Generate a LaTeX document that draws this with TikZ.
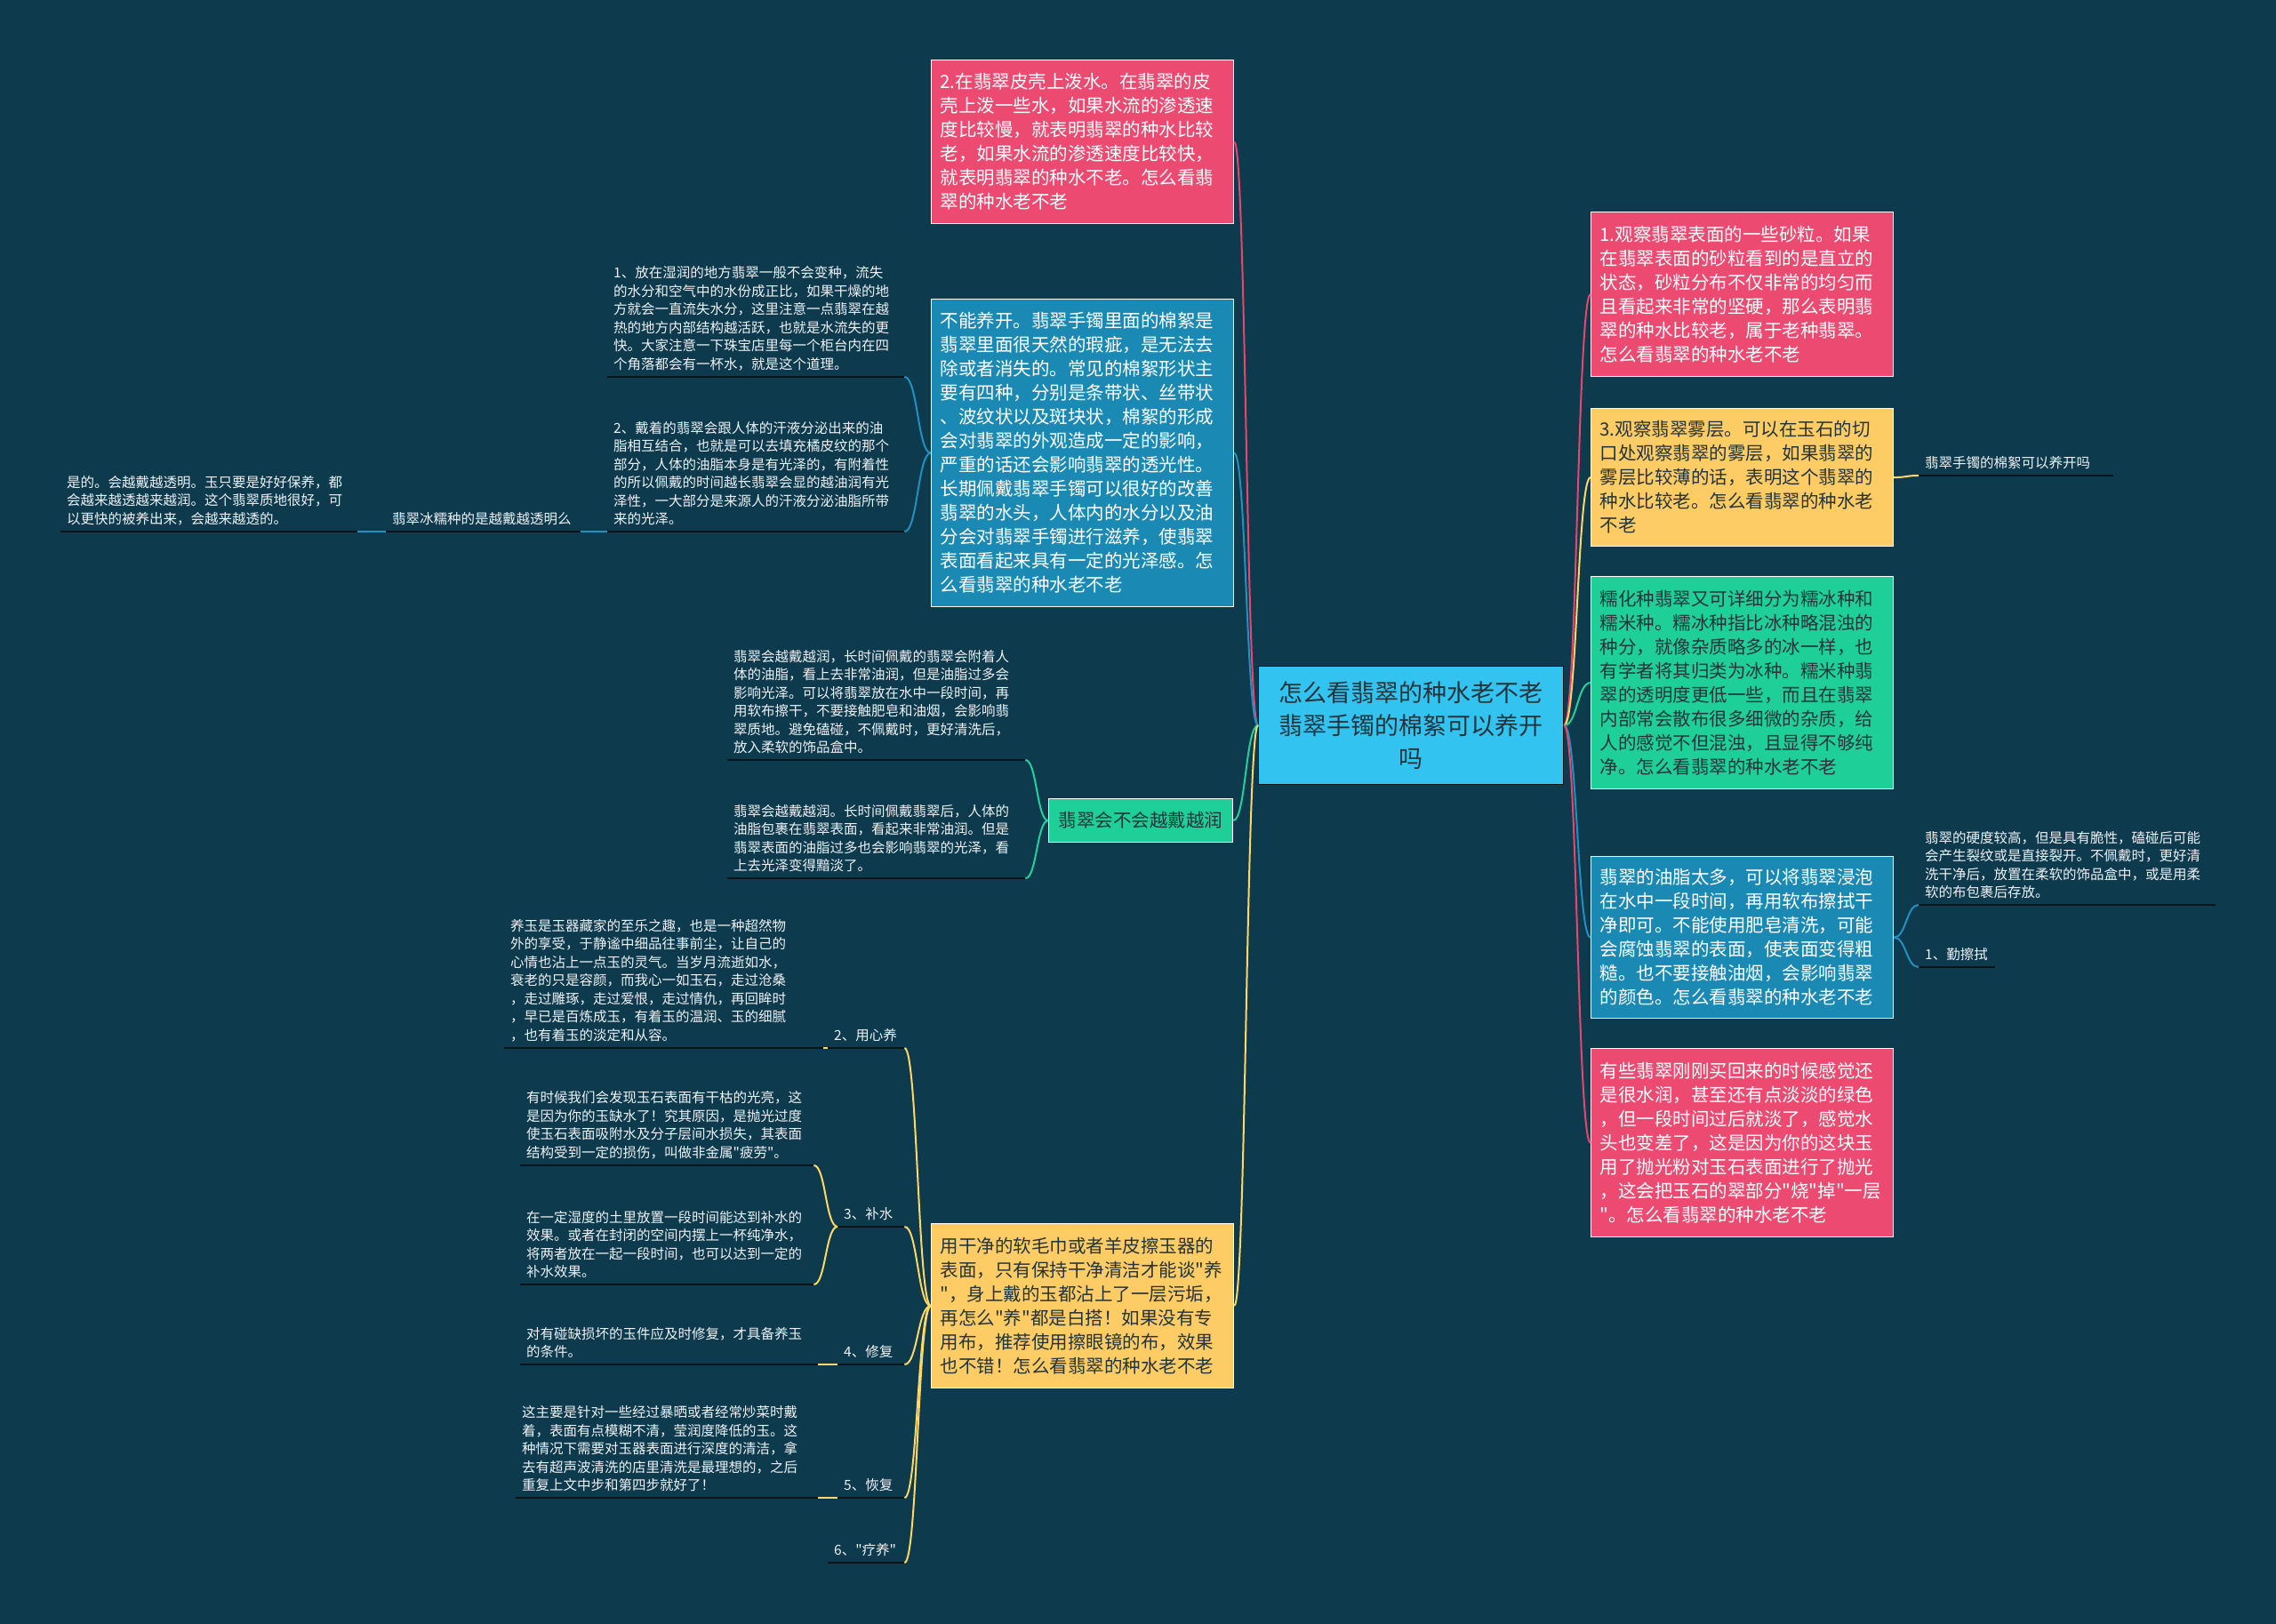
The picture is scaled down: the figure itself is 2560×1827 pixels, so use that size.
\documentclass[tikz,border=0pt]{standalone}
\usepackage{fontspec}
\newfontfamily\cjk{Noto Sans CJK SC}
\usetikzlibrary{calc}
\definecolor{bg}{HTML}{0E3A4E}
\definecolor{cred}{HTML}{EC4A70}
\definecolor{cblue}{HTML}{1A8AB4}
\definecolor{cgreen}{HTML}{1FCF98}
\definecolor{cyel}{HTML}{FECC65}
\definecolor{ccenter}{HTML}{33C3F0}
\definecolor{darktxt}{HTML}{23343A}
\definecolor{leaftxt}{HTML}{EEF2F4}
\definecolor{ulcol}{HTML}{0A1418}
\definecolor{lred}{HTML}{E8466C}
\definecolor{lblue}{HTML}{2391C0}
\definecolor{lgreen}{HTML}{22D19B}
\definecolor{lyel}{HTML}{FFD766}
\newcommand\curvelink[3]{\draw[link,#1] let \p1=(#2), \p2=(#3) in (\p1) .. controls ({(\x1+\x2)/2},\y1) and ({(\x1+\x2)/2},\y2) .. (\p2);}
\begin{document}
\begin{tikzpicture}[x=1pt,y=-1pt,
  box/.style={anchor=north west, text width=320pt, inner xsep=10pt, inner ysep=8pt, align=left,
    font=\cjk\fontsize{20.5}{27}\selectfont, draw=white, line width=1.2pt},
  redbox/.style={box, fill=cred, text=white},
  bluebox/.style={box, fill=cblue, text=white},
  greenbox/.style={box, fill=cgreen, text=darktxt},
  yelbox/.style={box, fill=cyel, text=darktxt},
  leaf/.style={anchor=south west, inner xsep=7pt, inner ysep=7pt, align=left, text=leaftxt,
    font=\cjk\fontsize{15.5}{20.5}\selectfont},
  uline/.style={draw=ulcol, line width=2pt},
  link/.style={line width=2pt}]
\useasboundingbox (0,0) rectangle (2560,1827);
\fill[bg] (0,0) rectangle (2560,1827);

% central node
\node[anchor=north west, fill=ccenter, draw=ulcol, line width=1.2pt, text=darktxt,
  text width=325pt, inner xsep=9pt, minimum height=133pt, align=center,
  font=\cjk\fontsize{27}{37}\selectfont] (center) at (1415,749)
  {怎么看翡翠的种水老不老\\翡翠手镯的棉絮可以养开\\吗};

% left boxes
\node[redbox, minimum height=184pt] (b1) at (1047,67)
{2.在翡翠皮壳上泼水。在翡翠的皮\\壳上泼一些水，如果水流的渗透速\\度比较慢，就表明翡翠的种水比较\\老，如果水流的渗透速度比较快，\\就表明翡翠的种水不老。怎么看翡\\翠的种水老不老};
\node[bluebox, minimum height=346pt] (b2) at (1047,336)
{不能养开。翡翠手镯里面的棉絮是\\翡翠里面很天然的瑕疵，是无法去\\除或者消失的。常见的棉絮形状主\\要有四种，分别是条带状、丝带状\\、波纹状以及斑块状，棉絮的形成\\会对翡翠的外观造成一定的影响，\\严重的话还会影响翡翠的透光性。\\长期佩戴翡翠手镯可以很好的改善\\翡翠的水头，人体内的水分以及油\\分会对翡翠手镯进行滋养，使翡翠\\表面看起来具有一定的光泽感。怎\\么看翡翠的种水老不老};
\node[greenbox, text width=189pt, inner xsep=9pt, minimum height=49pt, align=center] (b3) at (1179,898)
{翡翠会不会越戴越润};
\node[yelbox, minimum height=185pt] (b4) at (1047,1376)
{用干净的软毛巾或者羊皮擦玉器的\\表面，只有保持干净清洁才能谈"养\\"，身上戴的玉都沾上了一层污垢，\\再怎么"养"都是白搭！如果没有专\\用布，推荐使用擦眼镜的布，效果\\也不错！怎么看翡翠的种水老不老};

% right boxes
\node[redbox, minimum height=185pt] (r1) at (1789,238)
{1.观察翡翠表面的一些砂粒。如果\\在翡翠表面的砂粒看到的是直立的\\状态，砂粒分布不仅非常的均匀而\\且看起来非常的坚硬，那么表明翡\\翠的种水比较老，属于老种翡翠。\\怎么看翡翠的种水老不老};
\node[yelbox, minimum height=155pt] (r2) at (1789,459)
{3.观察翡翠雾层。可以在玉石的切\\口处观察翡翠的雾层，如果翡翠的\\雾层比较薄的话，表明这个翡翠的\\种水比较老。怎么看翡翠的种水老\\不老};
\node[greenbox, minimum height=239pt] (r3) at (1789,648)
{糯化种翡翠又可详细分为糯冰种和\\糯米种。糯冰种指比冰种略混浊的\\种分，就像杂质略多的冰一样，也\\有学者将其归类为冰种。糯米种翡\\翠的透明度更低一些，而且在翡翠\\内部常会散布很多细微的杂质，给\\人的感觉不但混浊，且显得不够纯\\净。怎么看翡翠的种水老不老};
\node[bluebox, minimum height=182pt] (r4) at (1789,963)
{翡翠的油脂太多，可以将翡翠浸泡\\在水中一段时间，再用软布擦拭干\\净即可。不能使用肥皂清洗，可能\\会腐蚀翡翠的表面，使表面变得粗\\糙。也不要接触油烟，会影响翡翠\\的颜色。怎么看翡翠的种水老不老};
\node[redbox, minimum height=212pt] (r5) at (1789,1179)
{有些翡翠刚刚买回来的时候感觉还\\是很水润，甚至还有点淡淡的绿色\\，但一段时间过后就淡了，感觉水\\头也变差了，这是因为你的这块玉\\用了抛光粉对玉石表面进行了抛光\\，这会把玉石的翠部分"烧"掉"一层\\"。怎么看翡翠的种水老不老};

% left leaves (blue branch)
\node[leaf, text width=320pt] (l1) at (683,424)
{1、放在湿润的地方翡翠一般不会变种，流失\\的水分和空气中的水份成正比，如果干燥的地\\方就会一直流失水分，这里注意一点翡翠在越\\热的地方内部结构越活跃，也就是水流失的更\\快。大家注意一下珠宝店里每一个柜台内在四\\个角落都会有一杯水，就是这个道理。};
\node[leaf, text width=320pt] (l2) at (683,598)
{2、戴着的翡翠会跟人体的汗液分泌出来的油\\脂相互结合，也就是可以去填充橘皮纹的那个\\部分，人体的油脂本身是有光泽的，有附着性\\的所以佩戴的时间越长翡翠会显的越油润有光\\泽性，一大部分是来源人的汗液分泌油脂所带\\来的光泽。};
\node[leaf, text width=205pt] (l3) at (434,598) {翡翠冰糯种的是越戴越透明么};
\node[leaf, text width=320pt] (l4) at (68,598)
{是的。会越戴越透明。玉只要是好好保养，都\\会越来越透越来越润。这个翡翠质地很好，可\\以更快的被养出来，会越来越透的。};

% green branch leaves
\node[leaf, text width=321pt] (g1) at (818,855)
{翡翠会越戴越润，长时间佩戴的翡翠会附着人\\体的油脂，看上去非常油润，但是油脂过多会\\影响光泽。可以将翡翠放在水中一段时间，再\\用软布擦干，不要接触肥皂和油烟，会影响翡\\翠质地。避免磕碰，不佩戴时，更好清洗后，\\放入柔软的饰品盒中。};
\node[leaf, text width=321pt] (g2) at (818,988)
{翡翠会越戴越润。长时间佩戴翡翠后，人体的\\油脂包裹在翡翠表面，看起来非常油润。但是\\翡翠表面的油脂过多也会影响翡翠的光泽，看\\上去光泽变得黯淡了。};

% yellow branch leaves
\node[leaf, text width=72pt] (y1) at (931,1179) {2、用心养};
\node[leaf, text width=345pt] (y1c) at (567,1179)
{养玉是玉器藏家的至乐之趣，也是一种超然物\\外的享受，于静谧中细品往事前尘，让自己的\\心情也沾上一点玉的灵气。当岁月流逝如水，\\衰老的只是容颜，而我心一如玉石，走过沧桑\\，走过雕琢，走过爱恨，走过情仇，再回眸时\\，早已是百炼成玉，有着玉的温润、玉的细腻\\，也有着玉的淡定和从容。};
\node[leaf, text width=61pt] (y2) at (942,1380) {3、补水};
\node[leaf, text width=316pt] (y2a) at (585,1311)
{有时候我们会发现玉石表面有干枯的光亮，这\\是因为你的玉缺水了！究其原因，是抛光过度\\使玉石表面吸附水及分子层间水损失，其表面\\结构受到一定的损伤，叫做非金属"疲劳"。};
\node[leaf, text width=316pt] (y2b) at (585,1445)
{在一定湿度的土里放置一段时间能达到补水的\\效果。或者在封闭的空间内摆上一杯纯净水，\\将两者放在一起一段时间，也可以达到一定的\\补水效果。};
\node[leaf, text width=61pt] (y3) at (942,1535) {4、修复};
\node[leaf, text width=321pt] (y3c) at (585,1535)
{对有碰缺损坏的玉件应及时修复，才具备养玉\\的条件。};
\node[leaf, text width=61pt] (y4) at (942,1685) {5、恢复};
\node[leaf, text width=326pt] (y4c) at (580,1685)
{这主要是针对一些经过暴晒或者经常炒菜时戴\\着，表面有点模糊不清，莹润度降低的玉。这\\种情况下需要对玉器表面进行深度的清洁，拿\\去有超声波清洗的店里清洗是最理想的，之后\\重复上文中步和第四步就好了！};
\node[leaf, text width=72pt] (y5) at (931,1758) {6、"疗养"};

% right leaves
\node[leaf, text width=205pt] (q1) at (2158,535) {翡翠手镯的棉絮可以养开吗};
\node[leaf, text width=320pt] (q2) at (2158,1018)
{翡翠的硬度较高，但是具有脆性，磕碰后可能\\会产生裂纹或是直接裂开。不佩戴时，更好清\\洗干净后，放置在柔软的饰品盒中，或是用柔\\软的布包裹后存放。};
\node[leaf, text width=72pt] (q3) at (2158,1088) {1、勤擦拭};

% underlines
\foreach \n in {l1,l2,l3,l4,g1,g2,y1,y1c,y2,y2a,y2b,y3,y3c,y4,y4c,y5,q1,q2,q3}
  \draw[uline] (\n.south west) -- (\n.south east);

% connectors from center
\curvelink{lred}{center.west}{b1.east}
\curvelink{lblue}{center.west}{b2.east}
\curvelink{lgreen}{center.west}{b3.east}
\curvelink{lyel}{center.west}{b4.east}
\curvelink{lred}{center.east}{r1.west}
\curvelink{lyel}{center.east}{r2.west}
\curvelink{lgreen}{center.east}{r3.west}
\curvelink{lblue}{center.east}{r4.west}
\curvelink{lred}{center.east}{r5.west}

% blue branch
\curvelink{lblue}{b2.west}{l1.south east}
\curvelink{lblue}{b2.west}{l2.south east}
\curvelink{lblue}{l2.south west}{l3.south east}
\curvelink{lblue}{l3.south west}{l4.south east}

% green branch
\curvelink{lgreen}{b3.west}{g1.south east}
\curvelink{lgreen}{b3.west}{g2.south east}

% yellow branch
\curvelink{lyel}{b4.west}{y1.south east}
\curvelink{lyel}{b4.west}{y2.south east}
\curvelink{lyel}{b4.west}{y3.south east}
\curvelink{lyel}{b4.west}{y4.south east}
\curvelink{lyel}{b4.west}{y5.south east}
\curvelink{lyel}{y1.south west}{y1c.south east}
\curvelink{lyel}{y2.south west}{y2a.south east}
\curvelink{lyel}{y2.south west}{y2b.south east}
\curvelink{lyel}{y3.south west}{y3c.south east}
\curvelink{lyel}{y4.south west}{y4c.south east}

% right leaves
\curvelink{lyel}{r2.east}{q1.south west}
\curvelink{lblue}{r4.east}{q2.south west}
\curvelink{lblue}{r4.east}{q3.south west}
\end{tikzpicture}
\end{document}
